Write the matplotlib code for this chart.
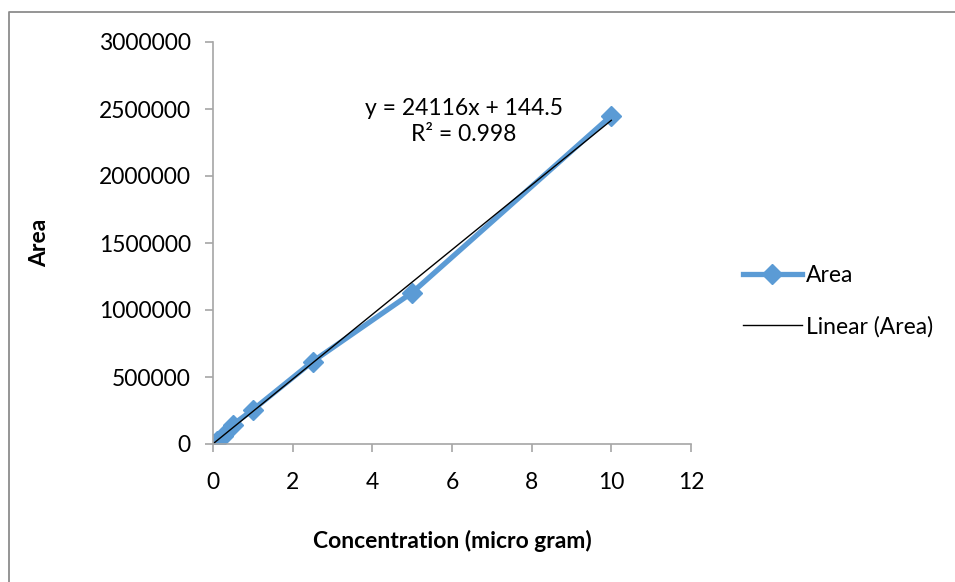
import matplotlib.pyplot as plt
import numpy as np
from matplotlib.lines import Line2D

# data
conc = [0, 0.1, 0.25, 0.5, 1, 2.5, 5, 10]
area = [2000, 25000, 60000, 145000, 255000, 615000, 1130000, 2450000]
x_ticks = [0, 2, 4, 6, 8, 10, 12]
y_ticks = [0, 500000, 1000000, 1500000, 2000000, 2500000, 3000000]
eq_text = "y = 24116x + 144.5\nR\u00b2 = 0.998"

plt.rcParams['font.family'] = ['Lato', 'DejaVu Sans']
blue = '#5B9BD5'
grey = '#A6A6A6'
fs = 16.5

fig = plt.figure(figsize=(9.55, 5.82), dpi=100)
ax = fig.add_axes([213/955, 1-444/582, (691-213)/955, (444-42)/582])

# outer chart frame: only left and top edges are inside the picture
fx, fy = 9/955, 1 - 12/582
fig.lines.append(Line2D([fx, fx, 1.01], [-0.01, fy, fy],
                        transform=fig.transFigure, color='#8C8C8C',
                        linewidth=1.3))

ax.plot(conc, area, color=blue, linewidth=3.8, marker='D', markersize=10,
        label='Area', solid_joinstyle='miter')

slope, icpt = np.polyfit(conc, area, 1)
xs = np.array([min(conc), max(conc)])
ax.plot(xs, slope * xs + icpt, color='black', linewidth=1.0,
        label='Linear (Area)')

ax.set_xlim(0, 12)
ax.set_ylim(0, 3000000)
ax.set_xticks(x_ticks)
ax.set_yticks(y_ticks)
ax.set_xticklabels([str(t) for t in x_ticks])
ax.set_yticklabels([str(t) for t in y_ticks])

for s in ['top', 'right']:
    ax.spines[s].set_visible(False)
for s in ['left', 'bottom']:
    ax.spines[s].set_color(grey)
    ax.spines[s].set_linewidth(1.2)
ax.tick_params(axis='both', colors=grey, labelcolor='black', labelsize=fs,
               length=6, width=1.2, direction='out')
ax.tick_params(axis='x', pad=14)
ax.tick_params(axis='y', pad=10)

ax.set_xlabel('Concentration (micro gram)', fontsize=fs, fontweight='bold',
              labelpad=27)
ax.set_ylabel('Area', fontsize=fs, fontweight='bold', labelpad=35)

ax.text(6.3, 2410000, eq_text, ha='center', va='center', fontsize=fs,
        linespacing=1.3)

ax.legend(loc='center left', bbox_to_anchor=(1.065, 0.355), frameon=False,
          fontsize=fs, handlelength=2.6, handletextpad=0.15, labelspacing=1.3)

fig.savefig('out.png', dpi=100)
